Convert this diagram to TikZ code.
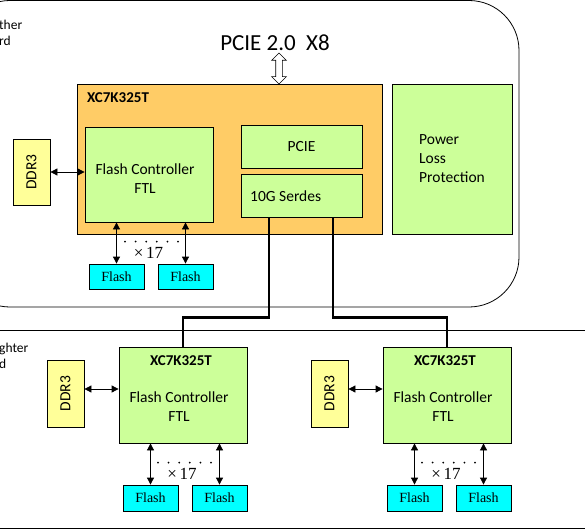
\documentclass[tikz,border=0pt]{standalone}
\usepackage{fontspec}
\setmainfont{Carlito}
\newfontfamily\flashfont{Liberation Serif}
\usetikzlibrary{arrows.meta, shapes.arrows, calc}

\definecolor{fpgaorange}{RGB}{255,204,102}
\definecolor{ctrlgreen}{RGB}{204,255,153}
\definecolor{ddryellow}{RGB}{255,255,153}
\definecolor{flashcyan}{RGB}{0,255,255}

\tikzset{
  blk/.style={draw, line width=0.8pt, inner sep=0pt, font=\fontsize{15.5}{19}\selectfont},
  txt/.style={inner sep=0pt, font=\fontsize{15.5}{19}\selectfont},
  title/.style={inner sep=0pt, font=\fontsize{15}{18}\selectfont\bfseries},
  lbl/.style={inner sep=0pt, font=\fontsize{13.5}{16}\selectfont},
  flashbox/.style={blk, fill=flashcyan, minimum width=55pt, minimum height=25pt, font=\flashfont\fontsize{14}{16}\selectfont},
  ddrbox/.style={blk, fill=ddryellow, rotate=90, minimum width=66pt, minimum height=37pt},
  times/.style={inner sep=0pt, font=\flashfont\fontsize{17}{19}\selectfont},
  link/.style={<->, line width=0.8pt},
  bus/.style={line width=2.2pt}
}

\begin{document}
\begin{tikzpicture}[x=1pt, y=-1pt, >={Triangle[length=7pt,width=7pt]}]
	\useasboundingbox (0,0) rectangle (585,529);
	% mother board
	\draw[line width=0.8pt, rounded corners=50pt] (-40,0.5) rectangle (519,307);
	\node[lbl, anchor=west] (mbA) at (-1,25) {ther};
	\node[lbl, anchor=west] (mbB) at (-1,41) {rd};
	\node[inner sep=0pt, font=\fontsize{23}{26}\selectfont] (pcietxt) at (275,43) {PCIE 2.0~~X8};
	\node[double arrow, draw, fill=white, line width=0.6pt, rotate=90, minimum height=31pt,
	      minimum width=14pt, inner sep=3pt, double arrow head extend=4pt] (pciearr) at (279,68.5) {};
	\node[blk, fill=fpgaorange, minimum width=305pt, minimum height=150pt] (fpga) at (229.5,159) {};
	\node[title, anchor=west] (fpgatitle) at (87,98) {XC7K325T};
	\node[blk, fill=ctrlgreen, minimum width=128pt, minimum height=95pt] (fc) at (149,174.5) {};
	\node[txt, align=center] (fctxt) at (145,179) {Flash Controller\\FTL};
	\node[blk, fill=ctrlgreen, minimum width=121pt, minimum height=43pt] (pcie) at (301.5,146.5) {PCIE};
	\node[blk, fill=ctrlgreen, minimum width=121pt, minimum height=43pt] (serdes) at (301.5,195.5) {};
	\node[txt, anchor=west] (serdestxt) at (250,196) {10G Serdes};
	\node[blk, fill=ctrlgreen, minimum width=120pt, minimum height=150pt, align=left] (plp) at (452,159) {Power\\Loss\\Protection};
	\node[ddrbox] (ddr) at (31.5,172) {DDR3};
	\node[flashbox] (fa) at (116.5,276.5) {Flash};
	\node[flashbox] (fb) at (185.5,276.5) {Flash};
	\draw[link] (ddr.south) -- (ddr.south -| fc.west);
	\draw[link] (fa.north) -- (fa.north |- fc.south);
	\draw[link] (fb.north) -- (fb.north |- fc.south);
	\foreach \k in {0,...,5}
	  \fill ($(fa.north)+(8.5+10.6*\k,-22)$) circle (1pt);
	\node[times] (cnt) at ($(fa.north)+(32,-11)$) {×\,17};
	% daughter boards
	\draw[line width=0.8pt] (-5,330) rectangle (590,528);
	\node[lbl, anchor=west] (dbA) at (-1,349) {ghter};
	\node[lbl, anchor=west] (dbB) at (-1,364) {d};
	\foreach \i/\dx in {0/0, 1/264} {
	  \begin{scope}[xshift=\dx pt]
	    \node[blk, fill=ctrlgreen, minimum width=128pt, minimum height=96pt] (dfpga\i) at (183,395) {};
	    \node[title] (dtitle\i) at (181,361) {XC7K325T};
	    \node[txt, align=center] (dfc\i) at (179,407) {Flash Controller\\FTL};
	    \node[ddrbox, minimum width=67pt] (dddr\i) at (65.5,393.5) {DDR3};
	    \node[flashbox, minimum height=26pt] (dfa\i) at (150.5,498) {Flash};
	    \node[flashbox, minimum height=26pt] (dfb\i) at (219.5,498) {Flash};
	    \draw[link] ([yshift=4.5pt]dddr\i.south) -- ([yshift=4.5pt]dddr\i.south -| dfpga\i.west);
	    \draw[link] (dfa\i.north) -- (dfa\i.north |- dfpga\i.south);
	    \draw[link] (dfb\i.north) -- (dfb\i.north |- dfpga\i.south);
	    \foreach \k in {0,...,5}
	      \fill ($(dfa\i.north)+(7.5+10.6*\k,-22)$) circle (1pt);
	    \node[times] (dcnt\i) at ($(dfa\i.north)+(31.5,-11)$) {×\,17};
	  \end{scope}
	}
	% serdes links
	\draw[bus] ([xshift=-32.5pt]serdes.south) -- ++(0,100) -| (dfpga0.north);
	\draw[bus] ([xshift=31.5pt]serdes.south) -- ++(0,100) -| (dfpga1.north);
\end{tikzpicture}
\end{document}
